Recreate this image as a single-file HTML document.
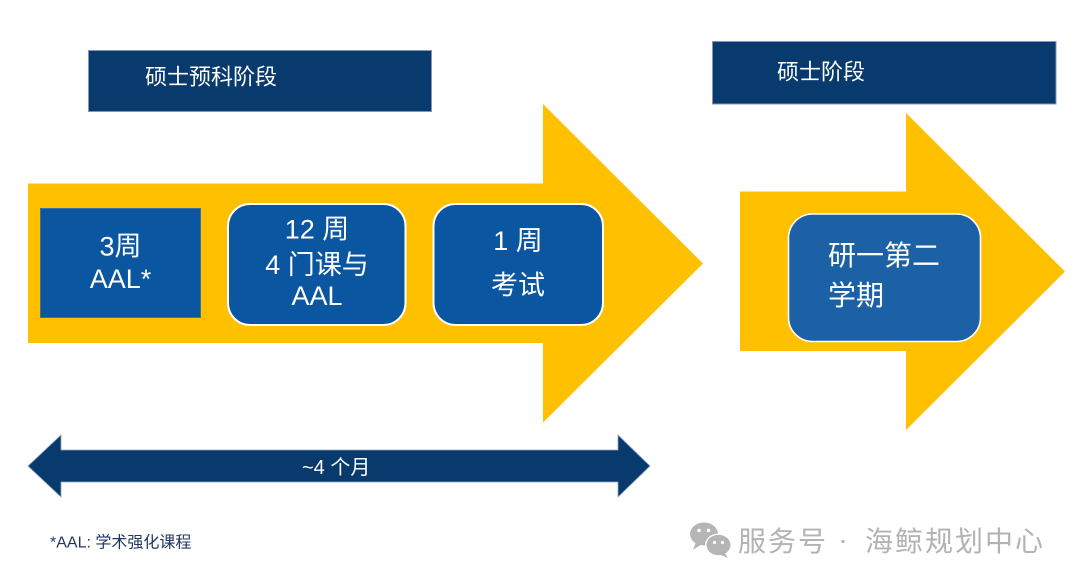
<!DOCTYPE html>
<html>
<head>
<meta charset="utf-8">
<style>
  html, body { margin: 0; padding: 0; background: #ffffff; }
  body { width: 1080px; height: 584px; overflow: hidden; position: relative; }
  svg { position: absolute; left: 0; top: 0; display: block; }
  text { font-family: "Liberation Sans", "Noto Sans CJK SC", "WenQuanYi Zen Hei", sans-serif; }
</style>
</head>
<body>
<svg width="1080" height="584" viewBox="0 0 1080 584" xmlns="http://www.w3.org/2000/svg">
  <!-- Header boxes -->
  <rect x="88.5" y="50.5" width="343" height="61" fill="#083a6d" stroke="#7d98b8" stroke-width="1"/>
  <text x="145" y="84.5" font-size="22" fill="#ffffff">硕士预科阶段</text>

  <rect x="712.5" y="41.5" width="343.5" height="62.5" fill="#083a6d" stroke="#7d98b8" stroke-width="1"/>
  <text x="777" y="79.5" font-size="22" fill="#ffffff">硕士阶段</text>

  <!-- Big arrow 1 -->
  <polygon points="28,183.5 543,183.5 543,104 703,263.5 543,422.5 543,343 28,343" fill="#ffc000"/>

  <!-- Box 1 -->
  <rect x="40.5" y="208.5" width="160" height="109" fill="#0b56a0" stroke="#3f6f9e" stroke-width="1"/>
  <text x="120.5" y="255.5" font-size="27" fill="#ffffff" text-anchor="middle">3周</text>
  <text x="120.5" y="288" font-size="27" fill="#ffffff" text-anchor="middle">AAL*</text>

  <!-- Box 2 -->
  <rect x="228" y="204" width="177.5" height="121" rx="22" ry="22" fill="#0b56a0" stroke="#ffffff" stroke-width="2"/>
  <text x="317" y="238.5" font-size="27" fill="#ffffff" text-anchor="middle">12 周</text>
  <text x="317" y="274" font-size="27" fill="#ffffff" text-anchor="middle">4 门课与</text>
  <text x="317" y="305" font-size="27" fill="#ffffff" text-anchor="middle">AAL</text>

  <!-- Box 3 -->
  <rect x="433.5" y="204" width="169.5" height="121" rx="22" ry="22" fill="#0b56a0" stroke="#ffffff" stroke-width="2"/>
  <text x="518" y="250" font-size="27" fill="#ffffff" text-anchor="middle">1 周</text>
  <text x="518" y="294.5" font-size="27" fill="#ffffff" text-anchor="middle">考试</text>

  <!-- Big arrow 2 -->
  <polygon points="740,191.5 906,191.5 906,113 1065,271.5 906,430 906,351 740,351" fill="#ffc000"/>

  <!-- Box 4 -->
  <rect x="788.5" y="214" width="192" height="127.5" rx="24" ry="24" fill="#1c61a6" stroke="#ffffff" stroke-width="1.6"/>
  <text x="828" y="265" font-size="28" fill="#ffffff">研一第二</text>
  <text x="828" y="305" font-size="28" fill="#ffffff">学期</text>

  <!-- Double arrow -->
  <polygon points="28,466 61,435 61,450 618,450 618,435 650,466 618,497 618,482 61,482 61,497" fill="#083a6d" stroke="#8ea6c2" stroke-width="0.8"/>
  <text x="302" y="474" font-size="20" fill="#ffffff">~4 个月</text>

  <!-- Footnote -->
  <text x="50" y="547.5" font-size="16" fill="#1f3864">*AAL: 学术强化课程</text>

  <!-- WeChat icon -->
  <g fill="#b5b5b5">
    <ellipse cx="704" cy="534" rx="14" ry="11.5"/>
    <polygon points="696,542 693,550 702,544"/>
  </g>
  <ellipse cx="718.5" cy="545" rx="13.5" ry="11.5" fill="#ffffff"/>
  <g fill="#b5b5b5">
    <ellipse cx="718.5" cy="545" rx="12" ry="10.2"/>
    <polygon points="724,552 728,558 719,554"/>
  </g>
  <g fill="#ffffff">
    <circle cx="699" cy="530.5" r="1.8"/>
    <circle cx="708.5" cy="530.5" r="1.8"/>
    <circle cx="714.5" cy="542.5" r="1.6"/>
    <circle cx="722.5" cy="542.5" r="1.6"/>
  </g>

  <!-- Watermark text -->
  <text x="738" y="551" font-size="28" fill="#b3b3b3" letter-spacing="2">服务号</text>
  <text x="843" y="549" font-size="28" fill="#b3b3b3" text-anchor="middle">·</text>
  <text x="865" y="551" font-size="28" fill="#b3b3b3" letter-spacing="2">海鲸规划中心</text>
</svg>
</body>
</html>
